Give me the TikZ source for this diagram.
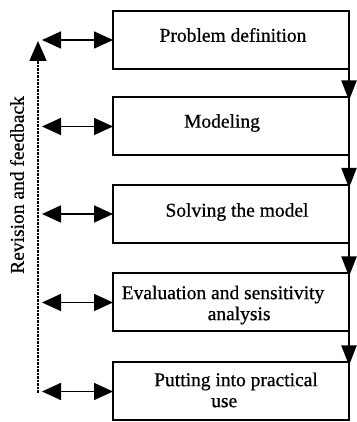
\documentclass[tikz,border=0pt]{standalone}
\usepackage{fontspec}
\setmainfont{Liberation Serif}[FakeBold=0.7]
\usetikzlibrary{arrows.meta}

\begin{document}
\begin{tikzpicture}[x=1pt, y=1pt, font=\fontsize{19.5}{21}\selectfont,
  stage/.style={rectangle,draw,line width=2pt,outer sep=0pt,minimum width=236pt,minimum height=58pt},
  flow/.style={line width=2pt,shorten >=-3pt,-{Triangle[length=20pt,width=15pt]}},
  link/.style={line width=1.6pt,{Triangle[length=19pt,width=17pt]}-{Triangle[length=19pt,width=17pt]}},
  loopback/.style={line width=1.6pt,dash pattern=on 2.5pt off 1pt,-{Triangle[length=20pt,width=17pt]}}]
\useasboundingbox (0,0) rectangle (356,422);

% Stage boxes, top to bottom
\node[stage] (b1) at (231,382) {};
\node[stage] (b2) at (231,295.5) {};
\node[stage] (b3) at (231,208) {};
\node[stage] (b4) at (231,119.5) {};
\node[stage] (b5) at (231,30.5) {};

% Box texts
\node (t1) at (233,387) {Problem definition};
\node (t2) at (222,299) {Modeling};
\node (t3) at (237,210) {Solving the model};
\node[align=left] (t4) at (223,117) {Evaluation and sensitivity\\\hspace*{86pt}analysis};
\node[align=left] (t5) at (236,32) {Putting into practical\\\hspace*{57pt}use};

% Flow down the right edge
\draw[flow] (b1.south east) -- (b2.north east);
\draw[flow] (b2.south east) -- (b3.north east);
\draw[flow] (b3.south east) -- (b4.north east);
\draw[flow] (b4.south east) -- (b5.north east);

% Two-way links to the feedback line
\foreach \i in {1,...,5}{
  \coordinate (fb\i) at ([xshift=-71pt]b\i.west);
  \draw[link] (fb\i) -- (b\i.west);
}

% Revision and feedback line
\coordinate (fbot) at (38,29);
\coordinate (ftop) at (38,381);
\draw[loopback] (fbot) -- (ftop);
\node[rotate=90] (rev) at (17,237) {Revision and feedback};
\end{tikzpicture}
\end{document}
